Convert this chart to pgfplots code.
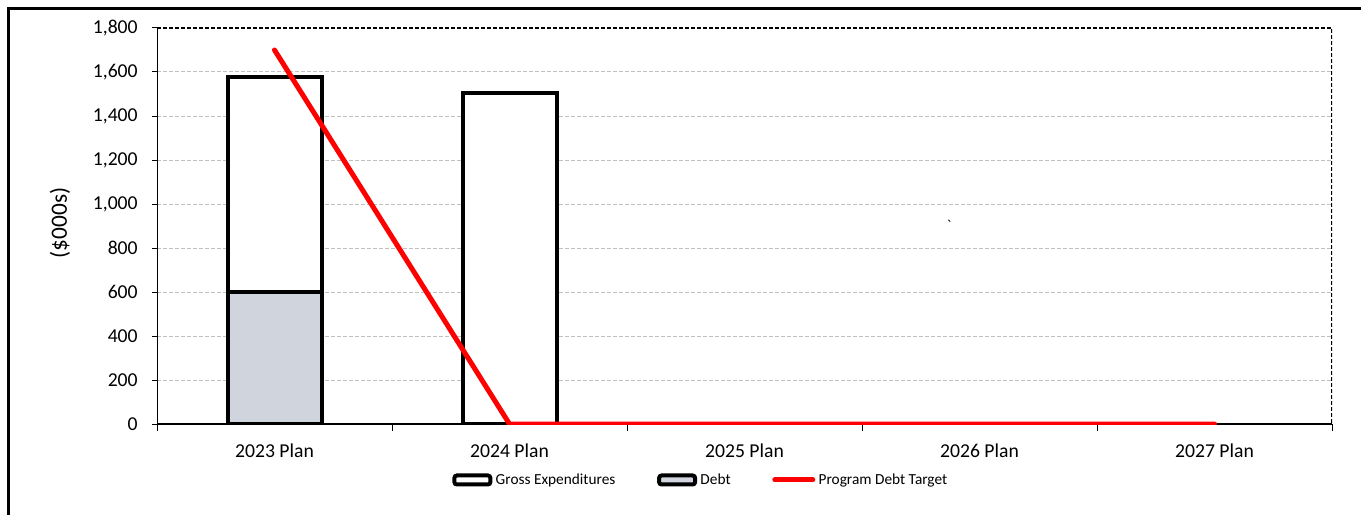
\documentclass[border=0pt]{standalone}
\usepackage{pgfplots}
\pgfplotsset{compat=1.18}
\usepackage{fontspec}
\setmainfont{Carlito}
\definecolor{debtgray}{RGB}{208,212,220}
\definecolor{gridgray}{RGB}{192,192,192}
\definecolor{targetred}{RGB}{255,0,0}

\begin{document}
\begin{tikzpicture}
\useasboundingbox (0,0) rectangle (816.6pt,308.4pt);
% outer chart frame
\draw[line width=1.3pt] (5.1pt,-20pt) -- (5.1pt,303.3pt) -- (840pt,303.3pt);
\begin{axis}[
  at={(94.2pt,54pt)}, anchor=south west,
  scale only axis, width=705pt, height=237.6pt,
  xmin=-0.5, xmax=4.5, ymin=0, ymax=1800,
  axis line style={draw=none},
  xtick={0,1,2,3,4},
  xticklabels={2023 Plan,2024 Plan,2025 Plan,2026 Plan,2027 Plan},
  minor xtick={-0.5,0.5,1.5,2.5,3.5,4.5},
  ytick={0,200,...,1800},
  xtick pos=bottom, ytick pos=left,
  tick align=outside,
  major x tick style={draw=none},
  minor tick length=4.2pt,
  major tick length=3pt,
  tick style={black, line width=0.6pt},
  ymajorgrids,
  grid style={gridgray, dash pattern=on 2.4pt off 1.2pt, line width=0.6pt},
  ticklabel style={font=\fontsize{11.8}{14}\selectfont},
  yticklabel style={anchor=east, inner sep=0pt, xshift=-8.4pt,
    /pgf/number format/1000 sep={,}, /pgf/number format/assume math mode=true},
  xticklabel style={anchor=base, inner sep=0pt, yshift=-16.8pt},
  legend columns=3,
  legend style={at={(axis description cs:0.4634,-0.1414)}, anchor=center,
    draw=none, font=\fontsize{9.2}{11}\selectfont, column sep=0pt,
    /tikz/every even column/.append style={column sep=23pt}},
]
% plot frame: solid left and bottom, dashed top and right
\draw[black, line width=0.7pt] (rel axis cs:0,1) -- (rel axis cs:0,0) -- (rel axis cs:1,0);
\draw[black, line width=0.7pt, dash pattern=on 2.4pt off 1.2pt] (rel axis cs:0,1) -- (rel axis cs:1,1) -- (rel axis cs:1,0);

\addplot[ybar, bar width=0.4, bar shift=0pt, fill=white, draw=black, line width=2.4pt,
  legend image code/.code={\draw[black, line width=2.4pt, fill=white, rounded corners=1.5pt] (1.2pt,-2.7pt) rectangle (22.8pt,2.7pt);}]
  coordinates {(0,1575) (1,1505)};
\addlegendentry{Gross Expenditures}

\addplot[ybar, bar width=0.4, bar shift=0pt, fill=debtgray, draw=black, line width=2.4pt,
  legend image code/.code={\draw[black, line width=2.4pt, fill=debtgray, rounded corners=1.5pt] (1.2pt,-2.7pt) rectangle (22.8pt,2.7pt);}]
  coordinates {(0,600)};
\addlegendentry{Debt}

\addplot[targetred, line width=3pt, line cap=round, line join=round,
  legend image code/.code={\draw[targetred, line width=3pt, line cap=round] (1.5pt,0pt) -- (24.3pt,0pt);}]
  coordinates {(0,1700) (1,0) (2,0) (3,0) (4,0)};
\addlegendentry{Program Debt Target}

\node[font=\fontsize{9}{10}\selectfont, inner sep=0pt] at (axis cs:2.87,905) {\textasciigrave};
\end{axis}
\node[rotate=90, font=\fontsize{14}{16}\selectfont] at (36pt,174.6pt) {(\$000s)};
\end{tikzpicture}
\end{document}
